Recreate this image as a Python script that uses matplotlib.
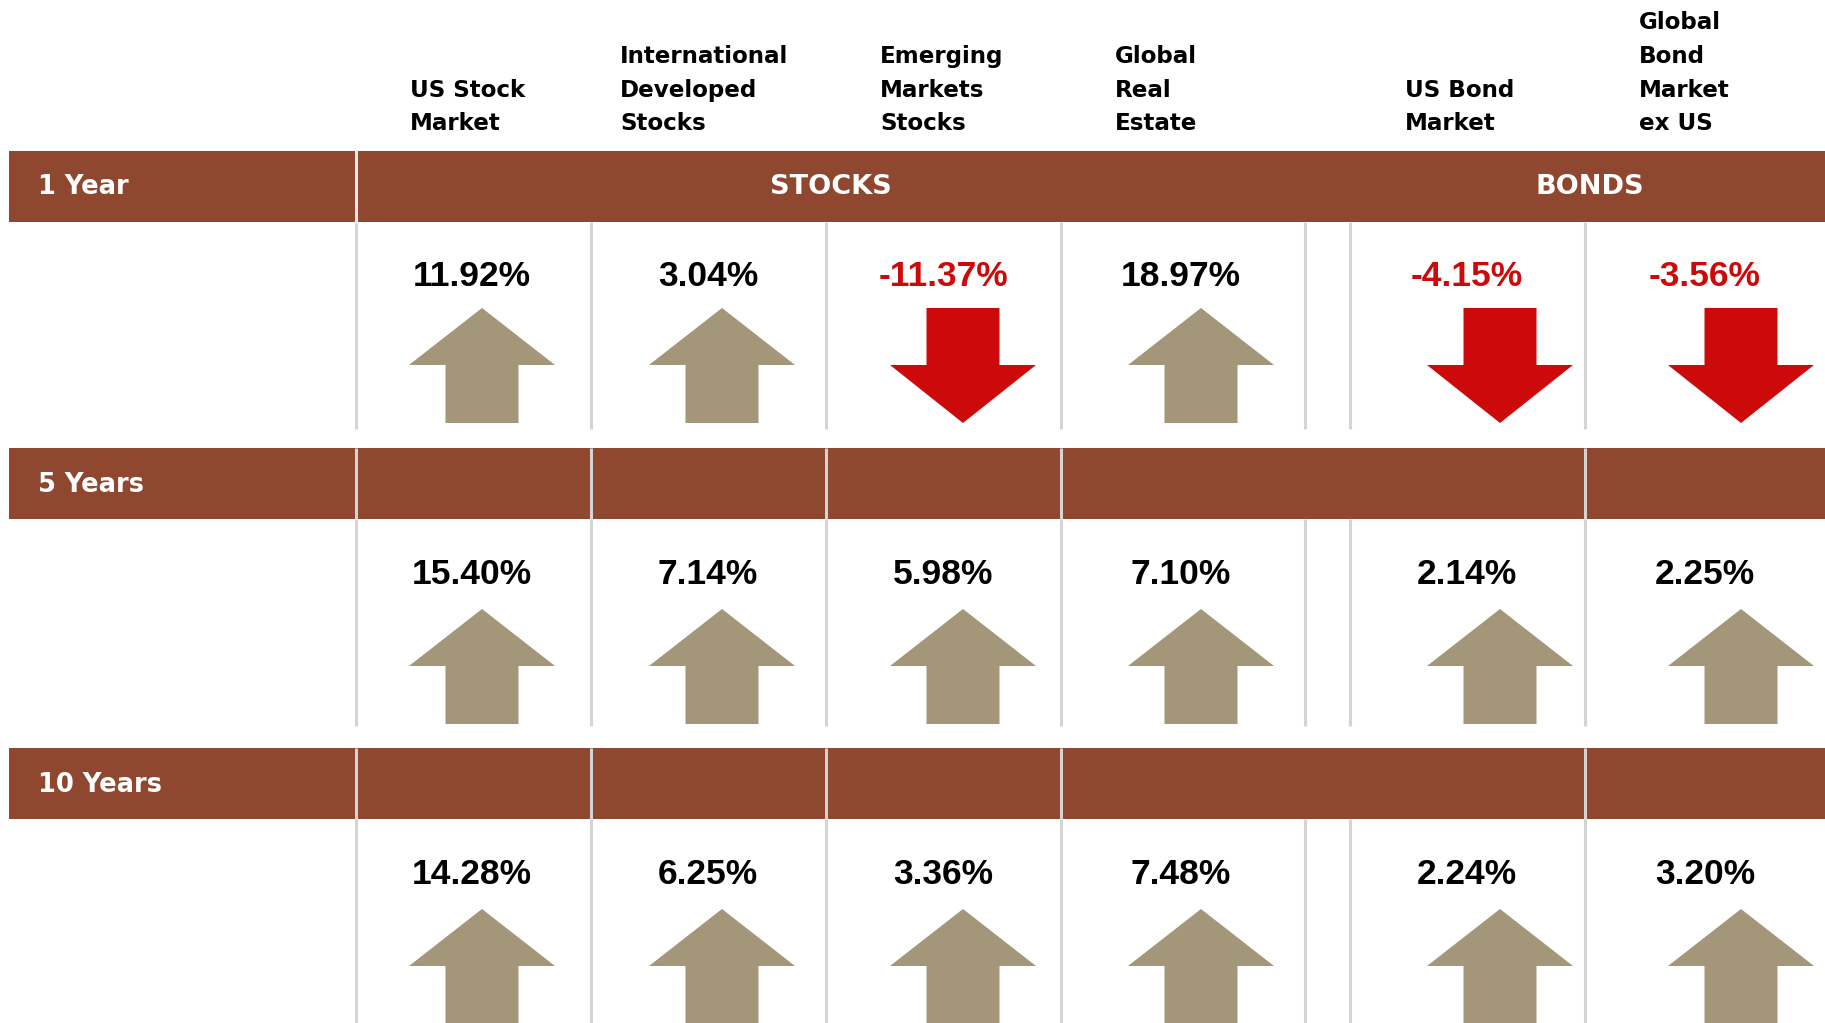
import matplotlib.pyplot as plt
from matplotlib.patches import Polygon, Rectangle

# data
categorias = [
    "US Stock\nMarket",
    "International\nDeveloped\nStocks",
    "Emerging\nMarkets\nStocks",
    "Global\nReal\nEstate",
    "US Bond\nMarket",
    "Global\nBond\nMarket\nex US",
]
periodos = ["1 Year", "5 Years", "10 Years"]
grupos = ["STOCKS", "BONDS"]
retornos_1a = [11.92, 3.04, -11.37, 18.97, -4.15, -3.56]
retornos_5a = [15.40, 7.14, 5.98, 7.10, 2.14, 2.25]
retornos_10a = [14.28, 6.25, 3.36, 7.48, 2.24, 3.20]
retornos = [retornos_1a, retornos_5a, retornos_10a]

# layout (pixels, figura 1825x1023)
MARROM = "#8f4730"
BEGE = "#a39679"
VERMELHO = "#cc0a0a"
CINZA = "#d4d4d4"

x_sep = [356, 591, 826, 1061, 1305, 1350, 1585]
x_sep_faixa = [356, 591, 826, 1061, 1585]
x_texto_cab = [410, 620, 880, 1115, 1405, 1639]
x_valor = [472, 708, 943, 1181, 1467, 1705]
x_seta = [482, 722, 963, 1201, 1500, 1741]
x_grupo = [831, 1590]
y_faixa = [151, 448, 748]
desloc_seta = [157, 161, 161]
alt_faixa = 71

fig = plt.figure(figsize=(18.25, 10.23), dpi=100)
ax = fig.add_axes([0, 0, 1, 1])
ax.set_xlim(0, 1825)
ax.set_ylim(1023, 0)
ax.axis("off")

# cabecalhos
for x, cat in zip(x_texto_cab, categorias):
    linhas = cat.split("\n")
    for k, linha in enumerate(linhas):
        y = 124 - 33.8 * (len(linhas) - 1 - k)
        ax.text(x, y, linha, ha="left", va="center", fontsize=16.6,
                fontweight="bold", family="DejaVu Sans", color="black")


def seta(ax, xc, y_topo, para_cima, cor):
    larg_cab, larg_haste = 146, 73
    y_base = y_topo + 115
    y_cab = y_topo + 57
    if para_cima:
        pts = [(xc, y_topo), (xc + larg_cab / 2, y_cab), (xc + larg_haste / 2, y_cab),
               (xc + larg_haste / 2, y_base), (xc - larg_haste / 2, y_base),
               (xc - larg_haste / 2, y_cab), (xc - larg_cab / 2, y_cab)]
    else:
        pts = [(xc - larg_haste / 2, y_topo), (xc + larg_haste / 2, y_topo),
               (xc + larg_haste / 2, y_cab), (xc + larg_cab / 2, y_cab),
               (xc, y_base), (xc - larg_cab / 2, y_cab), (xc - larg_haste / 2, y_cab)]
    ax.add_patch(Polygon(pts, closed=True, facecolor=cor, edgecolor="none"))


for i, (periodo, valores) in enumerate(zip(periodos, retornos)):
    y0 = y_faixa[i]
    ax.add_patch(Rectangle((9, y0), 1825 - 9, alt_faixa, facecolor=MARROM, edgecolor="none"))
    ax.text(38, y0 + alt_faixa / 2 + 1, periodo, ha="left", va="center", fontsize=18.5,
            fontweight="bold", color="white", family="DejaVu Sans")

    # linhas verticais
    y_fim = min(y0 + alt_faixa + 207, 1023)
    for x in x_sep:
        ax.plot([x, x], [y0 + alt_faixa, y_fim], color=CINZA, lw=2.2, solid_capstyle="butt")
    if i == 0:
        ax.plot([356, 356], [y0, y0 + alt_faixa], color="#e8e8e8", lw=2.2)
        for xg, g in zip(x_grupo, grupos):
            ax.text(xg, y0 + alt_faixa / 2 + 1, g, ha="center", va="center", fontsize=19.5,
                    fontweight="bold", color="white", family="DejaVu Sans")
    else:
        for x in x_sep_faixa:
            ax.plot([x, x], [y0, y0 + alt_faixa], color=CINZA, lw=2.2, solid_capstyle="butt")

    for xv, xs, v in zip(x_valor, x_seta, valores):
        cor_txt = VERMELHO if v < 0 else "black"
        ax.text(xv, y0 + 126, f"{v:.2f}%", ha="center", va="center", fontsize=25.5,
                fontweight="bold", color=cor_txt, family="Liberation Sans")
        seta(ax, xs, y0 + desloc_seta[i], v >= 0, BEGE if v >= 0 else VERMELHO)

fig.savefig("out.png", dpi=100, facecolor="white")
plt.close(fig)
